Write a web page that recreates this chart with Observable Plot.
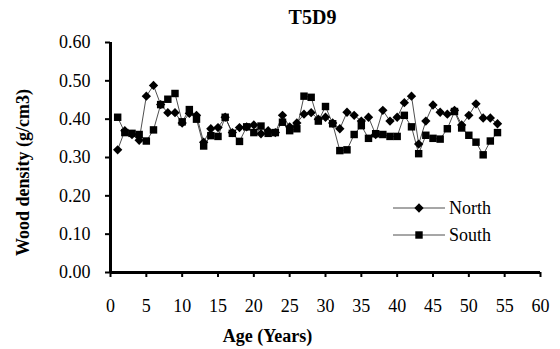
<!DOCTYPE html>
<html><head><meta charset="utf-8">
<script src="https://cdn.jsdelivr.net/npm/d3@7"></script>
<script src="https://cdn.jsdelivr.net/npm/@observablehq/plot@0.6"></script>
<style>
body{margin:0;background:#fff;}
#wrap{position:relative;width:560px;height:349px;}
#wrap svg, #wrap svg text{font-family:"Liberation Serif","Times New Roman",serif !important;}
#legend{position:absolute;left:390px;top:196px;}
</style></head><body><div id="wrap"><svg id="legend" width="140" height="50"></svg></div>
<script>
const title = "T5D9";
const xLabel = "Age (Years)";
const yLabel = "Wood density (g/cm3)";
const seriesNames = ["North", "South"];
const ages = [1,2,3,4,5,6,7,8,9,10,11,12,13,14,15,16,17,18,19,20,21,22,23,24,25,26,27,28,29,30,31,32,33,34,35,36,37,38,39,40,41,42,43,44,45,46,47,48,49,50,51,52,53,54];
const north = [0.320,0.370,0.360,0.345,0.460,0.488,0.438,0.417,0.417,0.390,0.415,0.410,0.340,0.375,0.378,0.405,0.365,0.378,0.380,0.385,0.362,0.370,0.365,0.410,0.380,0.390,0.413,0.417,0.400,0.405,0.390,0.375,0.418,0.410,0.395,0.405,0.360,0.423,0.395,0.405,0.443,0.460,0.335,0.395,0.437,0.418,0.413,0.423,0.385,0.410,0.440,0.403,0.403,0.388];
const south = [0.405,0.365,0.363,0.360,0.343,0.372,0.438,0.452,0.467,0.393,0.425,0.400,0.330,0.357,0.355,0.405,0.363,0.342,0.380,0.365,0.382,0.363,0.365,0.392,0.370,0.375,0.460,0.457,0.395,0.433,0.388,0.318,0.320,0.360,0.383,0.350,0.362,0.360,0.355,0.355,0.410,0.380,0.310,0.358,0.350,0.348,0.375,0.420,0.377,0.358,0.340,0.307,0.343,0.365];
const xTicks = [0,5,10,15,20,25,30,35,40,45,50,55,60];
const yTicks = [0,0.1,0.2,0.3,0.4,0.5,0.6];

const northData = ages.map((a,i)=>({age:a, density:north[i]}));
const southData = ages.map((a,i)=>({age:a, density:south[i]}));

const chart = Plot.plot({
  width:560, height:349,
  marginLeft:110, marginRight:20, marginTop:42, marginBottom:77,
  style:{fontSize:"18px", background:"white", color:"black", overflow:"visible"},
  x:{domain:[0,60]},
  y:{domain:[0,0.6]},
  marks:[
    Plot.line(northData,{x:"age", y:"density", stroke:"#222", strokeWidth:0.8}),
    Plot.line(southData,{x:"age", y:"density", stroke:"#222", strokeWidth:0.8}),
    Plot.dot(northData,{x:"age", y:"density", symbol:"diamond2", fill:"black", stroke:"none", r:4.2}),
    Plot.dot(southData,{x:"age", y:"density", symbol:"square", fill:"black", stroke:"none", r:4.2}),
    Plot.axisX({ticks:xTicks, label:null, tickSize:5, tickPadding:22, tickFormat:d=>String(d), strokeWidth:2, fontSize:18}),
    Plot.axisY({ticks:yTicks, label:null, tickSize:5, tickPadding:15, tickFormat:d=>d.toFixed(2), strokeWidth:2, fontSize:18}),
    Plot.ruleX([0],{stroke:"black", strokeWidth:3}),
    Plot.ruleY([0],{stroke:"black", strokeWidth:3}),
    Plot.text([title],{frameAnchor:"top", lineAnchor:"middle", textAnchor:"middle", dx:-13, dy:-25, fontWeight:"bold", fontSize:20}),
    Plot.text([xLabel],{frameAnchor:"bottom", lineAnchor:"middle", textAnchor:"middle", dx:-58, dy:64, fontWeight:"bold", fontSize:18}),
    Plot.text([yLabel],{frameAnchor:"left", lineAnchor:"middle", textAnchor:"middle", rotate:-90, dx:-87, dy:15, fontWeight:"bold", fontSize:18})
  ]
});
const wrap = document.getElementById("wrap");
wrap.insertBefore(chart, wrap.firstChild);

// legend
const lg = d3.select("#legend");
const syms = [d3.symbolDiamond2, d3.symbolSquare];
seriesNames.forEach((name,i)=>{
  const y = 12 + i*27;
  lg.append("line").attr("x1",3).attr("x2",55).attr("y1",y).attr("y2",y).attr("stroke","#222").attr("stroke-width",0.8);
  lg.append("path").attr("d", d3.symbol(syms[i], 55)()).attr("transform",`translate(29,${y})`).attr("fill","black");
  lg.append("text").attr("x",59).attr("y",y).attr("dy","0.35em").attr("font-size",18).text(name);
});
</script></body></html>
